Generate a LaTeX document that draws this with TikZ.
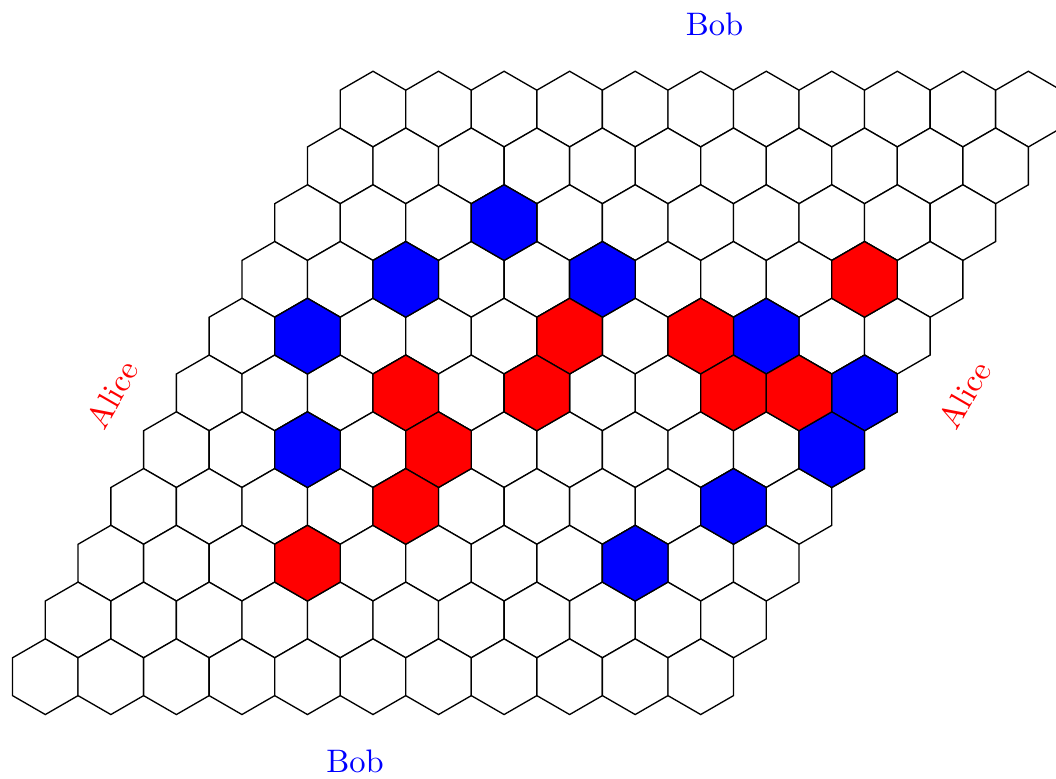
\documentclass[tikz,border=0pt]{standalone}
\begin{document}
\begin{tikzpicture}[x=0.75pt,y=-0.75pt,
  hexcell/.style={draw=black,line width=1pt,line join=miter},
  lbl/.style={font=\normalsize,inner sep=0pt,scale=2.44}]
\useasboundingbox (0,0) rectangle (1056,778);
\clip (0,0) rectangle (1056,778);
\def\R{37.84}
\def\HW{32.77}
\foreach \i in {0,...,10}{
  \foreach \j in {0,...,10}{
    \pgfmathsetmacro{\cx}{45.3+\j*65.54+(10-\i)*32.77}
    \pgfmathsetmacro{\cy}{676.7-(10-\i)*56.76}
    \draw[hexcell,fill=white] (\cx,\cy-\R) -- (\cx+\HW,\cy-\R/2) -- (\cx+\HW,\cy+\R/2) -- (\cx,\cy+\R) -- (\cx-\HW,\cy+\R/2) -- (\cx-\HW,\cy-\R/2) -- cycle;
  }
}
\foreach \i/\j in {2/3,3/2,3/5,4/1,4/8,5/10,6/2,6/10,7/9,8/8}{
    \pgfmathsetmacro{\cx}{45.3+\j*65.54+(10-\i)*32.77}
    \pgfmathsetmacro{\cy}{676.7-(10-\i)*56.76}
    \draw[hexcell,fill=blue] (\cx,\cy-\R) -- (\cx+\HW,\cy-\R/2) -- (\cx+\HW,\cy+\R/2) -- (\cx,\cy+\R) -- (\cx-\HW,\cy+\R/2) -- (\cx-\HW,\cy-\R/2) -- cycle;
}
\foreach \i/\j in {3/9,4/5,4/7,5/3,5/5,5/8,5/9,6/4,7/4,8/3}{
    \pgfmathsetmacro{\cx}{45.3+\j*65.54+(10-\i)*32.77}
    \pgfmathsetmacro{\cy}{676.7-(10-\i)*56.76}
    \draw[hexcell,fill=red] (\cx,\cy-\R) -- (\cx+\HW,\cy-\R/2) -- (\cx+\HW,\cy+\R/2) -- (\cx,\cy+\R) -- (\cx-\HW,\cy+\R/2) -- (\cx-\HW,\cy-\R/2) -- cycle;
}
\node[lbl,text=blue,anchor=base] (bobtop) at (714.5,35) {Bob};
\node[lbl,text=blue,anchor=base] (bobbottom) at (355,772.7) {Bob};
\node[lbl,text=red,rotate=60] (aliceleft) at (112,394.5) {Alice};
\node[lbl,text=red,rotate=60] (aliceright) at (964.5,395) {Alice};
\end{tikzpicture}
\end{document}
